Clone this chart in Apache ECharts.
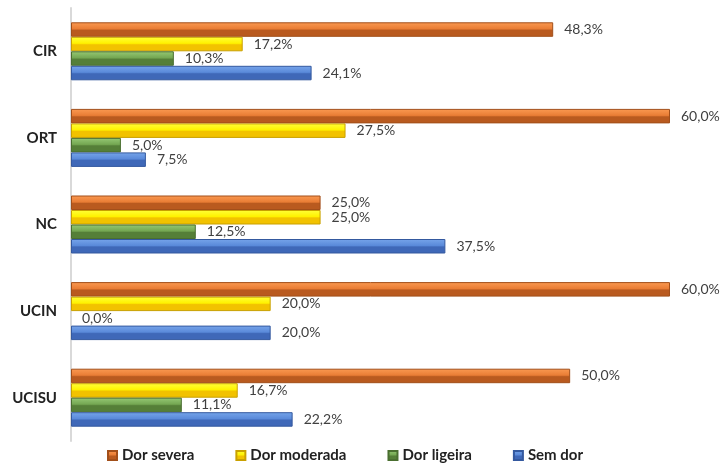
<!DOCTYPE html>
<html lang="pt">
  <head>
    <meta charset="UTF-8" />
    <title>Dor por serviço</title>
    <style>
      html, body { margin: 0; padding: 0; background: #fff; }
      #chart { width: 721px; height: 470px; }
    </style>
  </head>
  <body>
    <div id="chart"></div>
    <script src="https://cdn.jsdelivr.net/npm/echarts@6/dist/echarts.min.js"></script>
    <script>
      var categories = ['CIR', 'ORT', 'NC', 'UCIN', 'UCISU'];
      var severa = [48.3, 60.0, 25.0, 60.0, 50.0];
      var moderada = [17.2, 27.5, 25.0, 20.0, 16.7];
      var ligeira = [10.3, 5.0, 12.5, 0.0, 11.1];
      var semDor = [24.1, 7.5, 37.5, 20.0, 22.2];

      var myChart = echarts.init(document.getElementById('chart'));
      var font = 'Lato, "Open Sans", sans-serif';

      // faux bevel: light top half, darker bottom half
      function bevel(light, mid, dark) {
        return new echarts.graphic.LinearGradient(0, 0, 0, 1, [
          { offset: 0, color: light },
          { offset: 0.45, color: mid },
          { offset: 0.55, color: dark },
          { offset: 1, color: dark }
        ]);
      }

      function pct(p) {
        return p.value.toFixed(1).replace('.', ',') + '%';
      }

      function makeSeries(name, data, fill, border) {
        return {
          name: name,
          type: 'bar',
          // a zero bar should leave no outline behind
          data: data.map(function (v) {
            return v === 0 ? { value: v, itemStyle: { borderWidth: 0 } } : v;
          }),
          barWidth: 14.5,
          barGap: '0%',
          itemStyle: { color: fill, borderColor: border, borderWidth: 1 },
          label: {
            show: true,
            position: 'right',
            distance: 11,
            formatter: pct,
            color: '#404040',
            fontSize: 14,
            fontFamily: font
          }
        };
      }

      var option = {
        animation: false,
        grid: { left: 71, right: 51, top: 8, bottom: 29 },
        legend: {
          bottom: 2,
          left: 102,
          icon: 'rect',
          itemWidth: 9,
          itemHeight: 9,
          itemGap: 41,
          textStyle: {
            fontSize: 15,
            fontWeight: 'bold',
            color: '#222',
            fontFamily: font
          },
          data: ['Dor severa', 'Dor moderada', 'Dor ligeira', 'Sem dor']
        },
        xAxis: {
          type: 'value',
          min: 0,
          max: 60,
          show: false
        },
        yAxis: {
          type: 'category',
          data: categories,
          inverse: true,
          axisLine: { lineStyle: { color: '#D9D9D9', width: 2 } },
          axisTick: { show: false },
          axisLabel: {
            margin: 14,
            fontSize: 15,
            fontWeight: 'bold',
            color: '#222',
            fontFamily: font
          }
        },
        series: [
          makeSeries('Dor severa', severa, bevel('#FB9A52', '#E97D35', '#B95A1F'), '#A24F1A'),
          makeSeries('Dor moderada', moderada, bevel('#FFFF3A', '#FFF200', '#F2C200'), '#C9A000'),
          makeSeries('Dor ligeira', ligeira, bevel('#96C975', '#74A752', '#557F38'), '#4A6F30'),
          makeSeries('Sem dor', semDor, bevel('#77A5EA', '#5A8ADA', '#3F68B8'), '#34599F')
        ]
      };

      myChart.setOption(option);
    </script>
  </body>
</html>
